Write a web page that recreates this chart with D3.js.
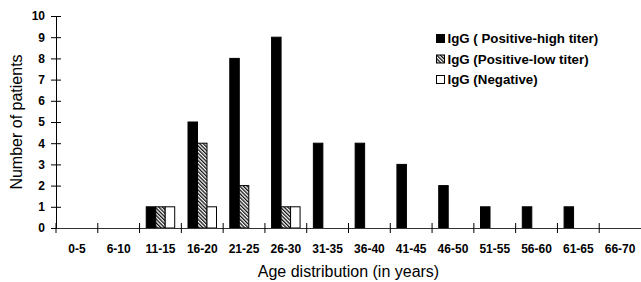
<!DOCTYPE html>
<html>
<head>
<meta charset="utf-8">
<script src="https://cdn.jsdelivr.net/npm/d3@7"></script>
<style>
  body { margin: 0; background: #fff; }
  text { font-family: "Liberation Sans", Arial, sans-serif; }
</style>
</head>
<body>
<div class="chart"></div>
<script>
// data
const ageGroups = ["0-5", "6-10", "11-15", "16-20", "21-25", "26-30", "31-35",
  "36-40", "41-45", "46-50", "51-55", "56-60", "61-65", "66-70"];
const highTiter = [0, 0, 1, 5, 8, 9, 4, 4, 3, 2, 1, 1, 1, 0];
const lowTiter  = [0, 0, 1, 4, 2, 1, 0, 0, 0, 0, 0, 0, 0, 0];
const negative  = [0, 0, 1, 1, 0, 1, 0, 0, 0, 0, 0, 0, 0, 0];
const seriesNames = ["IgG ( Positive-high titer)", "IgG (Positive-low titer)", "IgG (Negative)"];
const yTicks = [0, 1, 2, 3, 4, 5, 6, 7, 8, 9, 10];

const W = 641, H = 282;
const margin = {top: 16, right: 0, bottom: 54, left: 56};
const width = W - margin.left - margin.right;
const height = H - margin.top - margin.bottom;

const svg = d3.select(".chart").append("svg")
    .attr("width", W)
    .attr("height", H);

const defs = svg.append("defs");
const pat = defs.append("pattern")
    .attr("id", "hatch")
    .attr("patternUnits", "userSpaceOnUse")
    .attr("width", 2.6).attr("height", 2.6)
    .attr("patternTransform", "rotate(-45)");
pat.append("rect").attr("width", 2.6).attr("height", 2.6).attr("fill", "#fff");
pat.append("rect").attr("width", 1.3).attr("height", 2.6).attr("fill", "#111");

const fills = ["#000", "url(#hatch)", "#fff"];

const g = svg.append("g")
    .attr("transform", "translate(" + margin.left + "," + margin.top + ")");

const xScale = d3.scaleBand().domain(ageGroups).range([0, width]).padding(0);
const inner = d3.scaleBand().domain([0, 1, 2])
    .range([0, xScale.bandwidth()]).paddingInner(0).paddingOuter(0.7);
const yScale = d3.scaleLinear().domain([0, 10]).range([height, 0]);

const rows = ageGroups.map((c, i) => ({cat: c, vals: [highTiter[i], lowTiter[i], negative[i]]}));

// bars
const groups = g.selectAll(".grp").data(rows).enter().append("g")
    .attr("transform", d => "translate(" + xScale(d.cat) + ",0)");
groups.selectAll("rect")
    .data(d => d.vals.map((v, k) => ({v, k})).filter(e => e.v > 0))
    .enter().append("rect")
    .attr("x", e => inner(e.k))
    .attr("width", inner.bandwidth())
    .attr("y", e => yScale(e.v))
    .attr("height", e => height - yScale(e.v))
    .attr("fill", e => fills[e.k])
    .attr("stroke", "#000")
    .attr("stroke-width", 1);

// y axis
const yAxis = g.append("g")
    .call(d3.axisLeft(yScale).tickValues(yTicks).tickSize(5).tickSizeOuter(0).tickPadding(6));
yAxis.selectAll("text").attr("font-size", 12).attr("font-weight", "bold")
    .style("font-family", "'Liberation Sans', Arial, sans-serif").attr("fill", "#000");
yAxis.selectAll(".tick line").attr("x1", 5);
yAxis.selectAll("line, path").attr("stroke", "#000");

// x axis
const xAxis = g.append("g")
    .attr("transform", "translate(0," + height + ")")
    .call(d3.axisBottom(xScale).tickSize(0).tickSizeOuter(0).tickPadding(16.5));
xAxis.selectAll("text").attr("font-size", 12).attr("font-weight", "bold")
    .style("font-family", "'Liberation Sans', Arial, sans-serif").attr("fill", "#000");
xAxis.select("path").attr("stroke", "#333");
xAxis.selectAll(".bound").data(ageGroups).enter().append("line")
    .attr("class", "bound")
    .attr("x1", d => xScale(d)).attr("x2", d => xScale(d))
    .attr("y1", -5).attr("y2", 5)
    .attr("stroke", "#000");

// axis titles
g.append("text")
    .attr("x", width / 2).attr("y", height + 49)
    .attr("text-anchor", "middle")
    .attr("font-size", 16)
    .text("Age distribution (in years)");
g.append("text")
    .attr("transform", "translate(" + (-34) + "," + (height / 2) + ") rotate(-90)")
    .attr("text-anchor", "middle")
    .attr("font-size", 16)
    .text("Number of patients");

// legend
const legend = svg.append("g").attr("transform", "translate(436,38.5)");
seriesNames.forEach((name, k) => {
  const row = legend.append("g").attr("transform", "translate(0," + (k * 20.5) + ")");
  row.append("rect").attr("x", 0.5).attr("y", -4).attr("width", 8).attr("height", 8)
      .attr("fill", fills[k]).attr("stroke", "#000");
  row.append("text").attr("x", 11.5).attr("y", 4.8)
      .attr("font-size", 13.3).attr("font-weight", "bold")
      .text(name);
});
</script>
</body>
</html>
